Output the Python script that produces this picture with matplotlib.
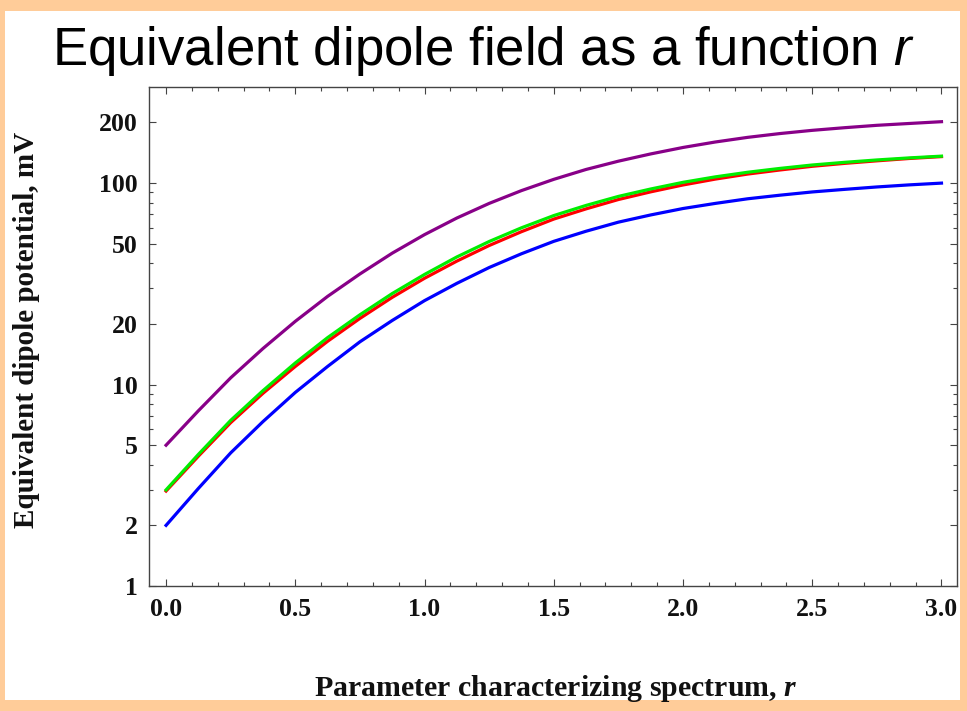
import matplotlib.pyplot as plt
from matplotlib.patches import Rectangle
from matplotlib.ticker import FixedLocator, FixedFormatter, NullFormatter

plt.rcParams['mathtext.fontset'] = 'custom'
plt.rcParams['mathtext.it'] = 'Liberation Sans:italic'
plt.rcParams['mathtext.bfit'] = 'Liberation Serif:bold:italic'

# values (mV), r in steps of 0.125
r = [0.0, 0.125, 0.25, 0.375, 0.5, 0.625, 0.75, 0.875, 1.0, 1.125, 1.25, 1.375, 1.5,
     1.625, 1.75, 1.875, 2.0, 2.125, 2.25, 2.375, 2.5, 2.625, 2.75, 2.875, 3.0]
purple = [5, 7.41, 10.8, 15.1, 20.6, 27.4, 35.4, 44.9, 55.5, 67.1, 79.3, 91.8, 104.4,
          116.9, 128.5, 139.6, 150.3, 160.0, 168.7, 176.2, 182.8, 188.4, 193.6, 197.7, 201.8]
red = [2.96, 4.41, 6.47, 9.05, 12.3, 16.4, 21.3, 27.1, 33.7, 41.0, 49.0, 57.4, 66.3,
       74.5, 82.9, 90.5, 97.9, 104.7, 110.9, 116.2, 121.2, 125.3, 129.0, 132.5, 135.4]
green = [3, 4.50, 6.64, 9.33, 12.8, 17.1, 22.2, 28.3, 35.2, 43.0, 51.3, 60.0, 69.0,
         77.5, 85.9, 93.5, 100.9, 107.4, 113.2, 118.3, 123.0, 126.8, 130.3, 133.4, 136.1]
blue = [2, 3.05, 4.58, 6.55, 9.14, 12.3, 16.3, 20.8, 26.1, 31.8, 38.1, 44.6, 51.4,
        57.7, 64.0, 69.5, 74.8, 79.3, 83.6, 87.1, 90.4, 93.1, 95.7, 98.0, 100]

y_major = [1, 2, 5, 10, 20, 50, 100, 200]
y_minor = [3, 4, 6, 7, 8, 9, 30, 40, 60, 70, 80, 90]
x_major = [0.0, 0.5, 1.0, 1.5, 2.0, 2.5, 3.0]
x_minor = [i / 10 for i in range(31)]

W, H = 967, 711
fig = plt.figure(figsize=(W / 100, H / 100), dpi=100)
fig.patch.set_facecolor('#FFCC99')
# white slide area behind everything
fig.add_artist(Rectangle((5 / W, 11 / H), 955 / W, 689 / H, transform=fig.transFigure,
                         facecolor='white', edgecolor='none', zorder=-10))

fig.text(483.5 / W, 1 - 65 / H, r'Equivalent dipole field as a function $r$',
         ha='center', va='baseline', fontsize=38, family='Liberation Sans')

ax = fig.add_axes([149 / W, 1 - 586 / H, 808 / W, 499 / H])
ax.set_facecolor('none')
ax.set_yscale('log')
ax.plot(r, purple, color='#880088', lw=2.3)
ax.plot(r, red, color='#FF0000', lw=2.3)
ax.plot(r, green, color='#00EE00', lw=2.3)
ax.plot(r, blue, color='#0000FF', lw=2.3)

ax.set_xlim(-0.066, 3.06)
ax.set_ylim(1, 300)

ax.xaxis.set_major_locator(FixedLocator(x_major))
ax.xaxis.set_minor_locator(FixedLocator(x_minor))
ax.set_xticklabels([f'{v:.1f}' for v in x_major])
ax.yaxis.set_major_locator(FixedLocator(y_major))
ax.yaxis.set_major_formatter(FixedFormatter([str(v) for v in y_major]))
ax.yaxis.set_minor_locator(FixedLocator(y_minor))
ax.yaxis.set_minor_formatter(NullFormatter())

for s in ax.spines.values():
    s.set_color('#444444')
    s.set_linewidth(1.0)
ax.tick_params(which='both', direction='in', top=True, right=True, color='#444444', width=0.8)
ax.tick_params(which='major', length=5)
ax.tick_params(which='minor', length=3)
ax.tick_params(axis='x', which='major', pad=9)
ax.tick_params(axis='y', which='major', pad=8)
for lab in ax.get_xticklabels() + ax.get_yticklabels():
    lab.set_family('Liberation Serif')
    lab.set_fontweight('bold')
    lab.set_fontsize(18.5)
    lab.set_color('#111111')

ax.set_ylabel('Equivalent dipole potential, mV', family='Liberation Serif',
              fontweight='bold', fontsize=21, color='#111111')
ax.yaxis.set_label_coords((27 - 149) / 808, (586 - 330) / 499)
ax.yaxis.label.set_verticalalignment('center')
ax.set_xlabel(r'Parameter characterizing spectrum, $\mathbfit{r}$', family='Liberation Serif',
              fontweight='bold', fontsize=21.5, color='#111111')
ax.xaxis.set_label_coords((556 - 149) / 808, (586 - 689) / 499)
ax.xaxis.label.set_verticalalignment('center')

fig.savefig('out.png', dpi=100)
